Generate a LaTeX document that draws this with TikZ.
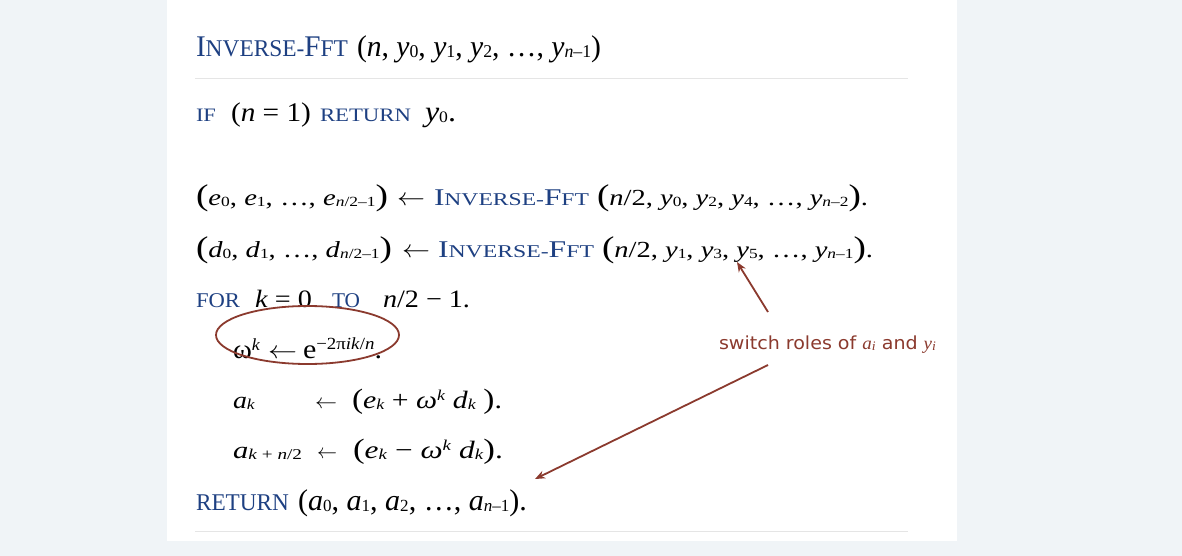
\documentclass[tikz,border=0pt]{standalone}
\usepackage{fontspec}
\setmainfont{Liberation Serif}
\newfontfamily\annfont{DejaVu Sans}
\usetikzlibrary{shapes.geometric,arrows.meta}
\definecolor{bgc}{RGB}{240,244,247}
\definecolor{kw}{RGB}{30,64,130}
\definecolor{note}{RGB}{139,58,46}
\definecolor{sepc}{RGB}{229,229,229}
\newcommand\fs[1]{\fontsize{#1}{#1}\selectfont}
\newcommand\lo[2][14]{\raisebox{-1pt}{\fs{#1}\upshape #2}}
\newcommand\hi[3][16]{\raisebox{#2pt}{\fs{#1}#3}}
\newcommand\ii[1]{\textit{#1}}
\newcommand\bigp[2][30]{{\fs{#1}#2}}
\newcommand\invfft[2]{\textcolor{kw}{\fs{#1}I\fs{#2}NVERSE-\fs{#1}F\fs{#2}FT}}
\newcommand\kwd[2]{\textcolor{kw}{\fs{#1}#2}}
\newcommand\fitw[2]{\resizebox{#1pt}{\height}{#2}}
\newcommand\larr[1]{\fs{#1}\ensuremath{\leftarrow}}
\begin{document}
\begin{tikzpicture}[x=1pt,y=-1pt,
  txt/.style={anchor=base west,inner sep=0pt,outer sep=0pt},
  sepline/.style={draw=sepc,line width=1pt},
  notearrow/.style={draw=note,line width=1.8pt,-{Stealth[length=10pt,width=8pt]}},
  ring/.style={draw=note,line width=1.8pt,ellipse,inner sep=0pt}]
\fill[bgc] (0,0) rectangle (1182,556);
\fill[white] (167,0) rectangle (957,541);
\draw[sepline] (195,79) -- (908,79);
\draw[sepline] (195,531) -- (908,531);
% title
\node[txt] (title) at (196,57) {\fitw{152}{\invfft{30}{24}}};
\node[txt] (targs) at (357,57) {\fitw{244}{\fs{30}(\ii{n}, \ii{y}\lo[18]{0}, \ii{y}\lo[18]{1}, \ii{y}\lo[18]{2}, …, \ii{y}\lo[18]{\ii{n}–1})}};
% IF line
\node[txt] (if) at (196,122) {\fitw{20}{\kwd{19}{IF}}};
\node[txt] (cond) at (231,122) {\fitw{80}{\fs{27}(\ii{n} = 1)}};
\node[txt] (ret1) at (320,122) {\fitw{91}{\kwd{19}{RETURN}}};
\node[txt] (yzero) at (425,122) {\fitw{31}{\fs{29}\ii{y}\lo[16]{0}.}};
% e line
\node[txt] (elhs) at (196,205) {\fitw{192}{\fs{23}\bigp{(}\ii{e}\lo{0}, \ii{e}\lo{1}, …, \ii{e}\lo{\ii{n}/2–1}\bigp{)}}};
\node[txt] (earr) at (397,205) {\fitw{28}{\larr{24}}};
\node[txt] (ecall) at (434,205) {\fitw{155}{\invfft{24}{18}}};
\node[txt] (eargs) at (597,205) {\fitw{271}{\fs{23}\bigp{(}\ii{n}/2, \ii{y}\lo{0}, \ii{y}\lo{2}, \ii{y}\lo{4}, …, \ii{y}\lo{\ii{n}–2}\bigp{)}.}};
% d line
\node[txt] (dlhs) at (196,257) {\fitw{196}{\fs{23}\bigp{(}\ii{d}\lo{0}, \ii{d}\lo{1}, …, \ii{d}\lo{\ii{n}/2–1}\bigp{)}}};
\node[txt] (darr) at (402,257) {\fitw{28}{\larr{24}}};
\node[txt] (dcall) at (438,257) {\fitw{156}{\invfft{24}{18}}};
\node[txt] (dargs) at (602,257) {\fitw{271}{\fs{23}\bigp{(}\ii{n}/2, \ii{y}\lo{1}, \ii{y}\lo{3}, \ii{y}\lo{5}, …, \ii{y}\lo{\ii{n}–1}\bigp{)}.}};
% FOR line
\node[txt] (for) at (196,307) {\fitw{44}{\kwd{21}{FOR}}};
\node[txt] (kinit) at (255,307) {\fitw{57}{\fs{25}\ii{k} = 0}};
\node[txt] (to) at (332,307) {\fitw{28}{\kwd{21}{TO}}};
\node[txt] (kend) at (383,307) {\fitw{87}{\fs{25}\ii{n}/2 − 1.}};
% omega line
\node[txt] (omk) at (233,358) {\fitw{27}{\fs{27}ω\hi[17]{8}{\ii{k}}}};
\node[txt] (oarr) at (268,358) {\fitw{29}{\larr{25}}};
\node[txt] (oexp) at (303,358) {\fitw{79}{\fs{27}e\hi[17]{9}{−2π\ii{ik}/\ii{n}}.}};
\node[ring,minimum width=183pt,minimum height=58pt] (circ) at (307.5,335) {};
% a_k line
\node[txt] (ak) at (233,408) {\fitw{22}{\fs{24}\ii{a}\lo[15]{\ii{k}}}};
\node[txt] (akarr) at (315,408) {\fitw{22}{\larr{22}}};
\node[txt] (akrhs) at (352,408) {\fitw{150}{\fs{25}\bigp[28]{(}\ii{e}\lo[15]{\ii{k}} + \ii{ω}\hi[15]{8}{\ii{k}} \ii{d}\lo[15]{\ii{k}} \bigp[28]{)}.}};
% a_{k+n/2} line
\node[txt] (akn) at (233,458) {\fitw{69}{\fs{24}\ii{a}\lo[15]{\ii{k} + \ii{n}/2}}};
\node[txt] (aknarr) at (317,458) {\fitw{20}{\larr{22}}};
\node[txt] (aknrhs) at (353,458) {\fitw{150}{\fs{25}\bigp[28]{(}\ii{e}\lo[15]{\ii{k}} − \ii{ω}\hi[15]{8}{\ii{k}} \ii{d}\lo[15]{\ii{k}}\bigp[28]{)}.}};
% RETURN line
\node[txt] (ret2) at (196,510) {\fitw{93}{\kwd{24}{RETURN}}};
\node[txt] (alist) at (298,510) {\fitw{229}{\fs{30}(\ii{a}\lo[17]{0}, \ii{a}\lo[17]{1}, \ii{a}\lo[17]{2}, …, \ii{a}\lo[17]{\ii{n}–1}).}};
% annotation
\node[txt,text=note] (note) at (719,349) {\fitw{217}{\annfont\fs{18}switch roles of {\rmfamily\itshape a}\lo[13]{\rmfamily\itshape i} and {\rmfamily\itshape y}\lo[13]{\rmfamily\itshape i}}};
\coordinate (s1) at (768,312);
\coordinate (t1) at (737,262);
\coordinate (s2) at (768,365);
\coordinate (t2) at (535,479);
\draw[notearrow] (s1) -- (t1);
\draw[notearrow] (s2) -- (t2);
\end{tikzpicture}
\end{document}
